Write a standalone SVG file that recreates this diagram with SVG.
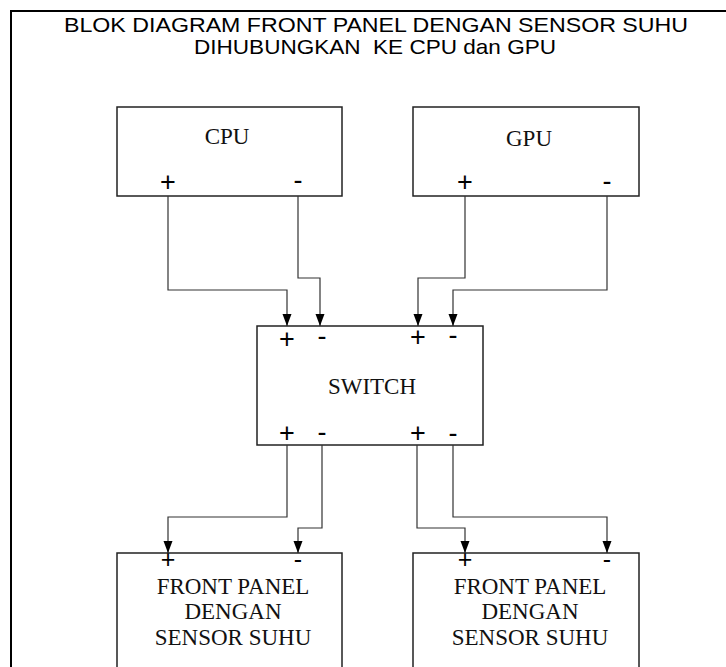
<svg xmlns="http://www.w3.org/2000/svg" width="726" height="667" viewBox="0 0 726 667">
<style>
.box{fill:none;stroke:#222;stroke-width:1.5}
.frame{fill:none;stroke:#000;stroke-width:2}
.conn{fill:none;stroke:#333;stroke-width:1.2}
.title{font-family:"Liberation Sans",Arial,sans-serif;font-size:21px;fill:#000;text-anchor:middle;white-space:pre}
.lbl{font-family:"Liberation Serif","Times New Roman",serif;font-size:23px;fill:#111;text-anchor:middle}
.pm{font-family:"Liberation Sans",Arial,sans-serif;font-size:27px;fill:#000;text-anchor:middle}
.pms{font-family:"Liberation Sans",Arial,sans-serif;font-size:25px;fill:#000;text-anchor:middle}
</style>
<defs>
<marker id="arr" markerUnits="userSpaceOnUse" markerWidth="12" markerHeight="10" refX="12" refY="4.5" orient="auto">
<path d="M0,0 L12,4.5 L0,9 z" fill="#000"/>
</marker>
</defs>
<rect width="726" height="667" fill="#fff"/>
<path class="frame" d="M11,667 V11 H726"/>
<g id="title">
<text class="title" x="376" y="32" textLength="624" lengthAdjust="spacingAndGlyphs">BLOK DIAGRAM FRONT PANEL DENGAN SENSOR SUHU</text>
<text class="title" x="375" y="54" textLength="362" lengthAdjust="spacingAndGlyphs" xml:space="preserve">DIHUBUNGKAN  KE CPU dan GPU</text>
</g>
<g id="cpu">
<rect class="box" x="117" y="107" width="225" height="89"/>
<text class="lbl" x="227" y="144">CPU</text>
<text class="pm" x="168" y="191">+</text>
<text class="pm" x="298" y="189">-</text>
</g>
<g id="gpu">
<rect class="box" x="413" y="107" width="226" height="89"/>
<text class="lbl" x="529" y="146">GPU</text>
<text class="pm" x="465" y="191">+</text>
<text class="pm" x="607" y="190">-</text>
</g>
<g id="switch">
<rect class="box" x="257" y="326" width="226" height="119"/>
<text class="lbl" x="372" y="394">SWITCH</text>
<text class="pm" x="287" y="348">+</text>
<text class="pm" x="322" y="345">-</text>
<text class="pm" x="418" y="346">+</text>
<text class="pm" x="453" y="344">-</text>
<text class="pm" x="287" y="442">+</text>
<text class="pm" x="322" y="441">-</text>
<text class="pm" x="418" y="442">+</text>
<text class="pm" x="453" y="442">-</text>
</g>
<g id="frontpanel1">
<rect class="box" x="117" y="553" width="225" height="130"/>
<text class="pms" x="168" y="568">+</text>
<text class="pms" x="298" y="568">-</text>
<text class="lbl" x="233" y="594">FRONT PANEL</text>
<text class="lbl" x="233" y="619">DENGAN</text>
<text class="lbl" x="233" y="645">SENSOR SUHU</text>
</g>
<g id="frontpanel2">
<rect class="box" x="413" y="553" width="226" height="130"/>
<text class="pms" x="465" y="568">+</text>
<text class="pms" x="607" y="568">-</text>
<text class="lbl" x="530" y="594">FRONT PANEL</text>
<text class="lbl" x="530" y="619">DENGAN</text>
<text class="lbl" x="530" y="645">SENSOR SUHU</text>
</g>
<g id="connectors">
<path class="conn" marker-end="url(#arr)" d="M168,196 V290 H287 V326"/>
<path class="conn" marker-end="url(#arr)" d="M298,196 V278 H320 V326"/>
<path class="conn" marker-end="url(#arr)" d="M465,196 V278 H418 V326"/>
<path class="conn" marker-end="url(#arr)" d="M607,196 V290 H453 V326"/>
<path class="conn" marker-end="url(#arr)" d="M287,445 V517 H168 V553"/>
<path class="conn" marker-end="url(#arr)" d="M322,445 V528 H298 V553"/>
<path class="conn" marker-end="url(#arr)" d="M417,445 V528 H465 V553"/>
<path class="conn" marker-end="url(#arr)" d="M453,445 V517 H607 V553"/>
</g>
</svg>
